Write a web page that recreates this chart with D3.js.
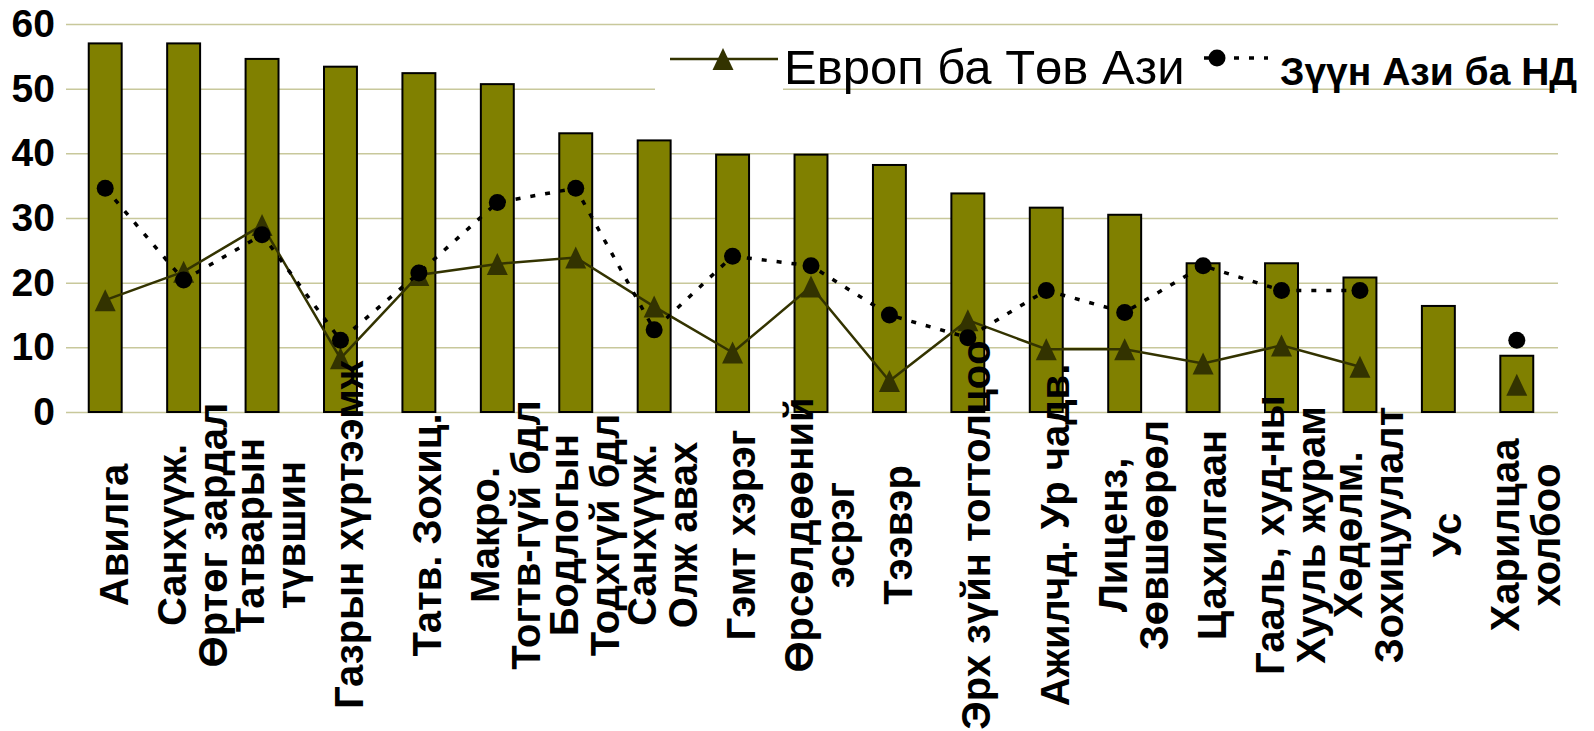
<!DOCTYPE html>
<html>
<head>
<meta charset="utf-8">
<script src="https://cdn.jsdelivr.net/npm/d3@7"></script>
<style>
  html, body { margin: 0; padding: 0; background: #fff; }
  text { font-family: "Liberation Sans", Arial, sans-serif; }
</style>
</head>
<body>
<div id="chart"></div>
<script>
// category labels, one entry per bar, split into the lines shown under the axis
const categories = [
  ["Авилга"],
  ["Санхүүж.", "Өртөг зардал"],
  ["Татварын", "түвшин"],
  ["Газрын хүртээмж"],
  ["Татв. Зохиц."],
  ["Макро.", "Тогтв-гүй бдл"],
  ["Бодлогын", "Тодхгүй бдл"],
  ["Санхүүж.", "Олж авах"],
  ["Гэмт хэрэг"],
  ["Өрсөлдөөний", "эсрэг"],
  ["Тээвэр"],
  ["Эрх зүйн тогтолцоо"],
  ["Ажилчд. Ур чадв."],
  ["Лиценз,", "Зөвшөөрөл"],
  ["Цахилгаан"],
  ["Гааль, худ-ны", "Хууль журам"],
  ["Хөдөлм.", "Зохицуулалт"],
  ["Ус"],
  ["Харилцаа", "холбоо"]
];

const barValues = [57, 57, 54.6, 53.4, 52.4, 50.7, 43.1, 42, 39.8, 39.8, 38.2, 33.8, 31.6, 30.5, 23, 23, 20.8, 16.4, 8.7];
const europe = [17.3, 21.7, 28.9, 8.3, 21.2, 22.9, 23.9, 16.3, 9.2, 19.4, 4.8, 14.2, 9.7, 9.7, 7.5, 10.3, 7, null, 4.2];
const eastAsia = [34.6, 20.4, 27.4, 11.1, 21.5, 32.4, 34.6, 12.7, 24.1, 22.6, 15, 11.5, 18.8, 15.4, 22.6, 18.8, 18.8, null, 11.1];

const yTicks = [0, 10, 20, 30, 40, 50, 60];
const seriesNames = ["Европ ба Төв Ази", "Зүүн Ази ба НД"];

const width = 1594;
const height = 731;
const margin = { top: 24, left: 66, bottom: 319, right: 38 };

const keys = categories.map((c) => c.join(" "));

const svg = d3.select("#chart").append("svg")
  .attr("width", width)
  .attr("height", height);

const x = d3.scaleBand()
  .domain(keys)
  .range([margin.left, width - margin.right])
  .paddingInner(0.58)
  .paddingOuter(0.29);

const y = d3.scaleLinear()
  .domain([0, 60])
  .range([height - margin.bottom, margin.top]);

const cx = (i) => x(keys[i]) + x.bandwidth() / 2;

// grid + y labels
const yAxis = svg.append("g")
  .attr("transform", `translate(${margin.left},0)`)
  .call(d3.axisLeft(y)
    .tickValues(yTicks)
    .tickSize(-(width - margin.left - margin.right + 2))
    .tickPadding(11));

yAxis.select(".domain").remove();
yAxis.selectAll(".tick line")
  .attr("stroke", "#c8c89b")
  .attr("stroke-width", 1.5);
yAxis.selectAll(".tick text")
  .attr("fill", "#000")
  .style("font-size", "39px")
  .style("font-weight", "bold");

// white patch behind the first legend symbol (hides the grid there)
svg.append("rect")
  .attr("x", 655).attr("y", 34)
  .attr("width", 128).attr("height", 60)
  .attr("fill", "#fff");

// bars
svg.append("g")
  .selectAll("rect")
  .data(barValues)
  .join("rect")
  .attr("x", (d, i) => x(keys[i]))
  .attr("y", (d) => y(d))
  .attr("width", x.bandwidth())
  .attr("height", (d) => y(0) - y(d))
  .attr("fill", "#808000")
  .attr("stroke", "#000")
  .attr("stroke-width", 2);

const triangle = (w, h) => `M0,${-h / 2}L${w / 2},${h / 2}L${-w / 2},${h / 2}Z`;

const line = d3.line()
  .defined((d) => d != null)
  .x((d, i) => cx(i))
  .y((d) => y(d));

// Europe & Central Asia
svg.append("path")
  .datum(europe)
  .attr("d", line)
  .attr("fill", "none")
  .attr("stroke", "#333300")
  .attr("stroke-width", 2.5);

svg.append("g")
  .selectAll("path")
  .data(europe.map((v, i) => ({ v, i })).filter((d) => d.v != null))
  .join("path")
  .attr("transform", (d) => `translate(${cx(d.i)},${y(d.v)})`)
  .attr("d", triangle(21, 22))
  .attr("fill", "#333300");

// East Asia & Pacific
svg.append("path")
  .datum(eastAsia)
  .attr("d", line)
  .attr("fill", "none")
  .attr("stroke", "#000")
  .attr("stroke-width", 3.5)
  .attr("stroke-dasharray", "5,10");

svg.append("g")
  .selectAll("circle")
  .data(eastAsia.map((v, i) => ({ v, i })).filter((d) => d.v != null))
  .join("circle")
  .attr("cx", (d) => cx(d.i))
  .attr("cy", (d) => y(d.v))
  .attr("r", 8.5)
  .attr("fill", "#000");

// x labels, rotated
const lineGap = 41;
const labels = svg.append("g")
  .selectAll("text")
  .data(categories)
  .join("text")
  .attr("transform", (d, i) => `translate(${cx(i) + 8.5},535) rotate(-90)`)
  .attr("text-anchor", "middle")
  .style("font-size", "40px")
  .style("font-weight", "bold");

labels.selectAll("tspan")
  .data((d) => d.map((t, k) => ({ t, k, n: d.length })))
  .join("tspan")
  .attr("x", 0)
  .attr("y", (d) => (d.k - (d.n - 1) / 2) * lineGap)
  .attr("dy", "0.35em")
  .text((d) => d.t);

// legend
const leg = svg.append("g");
leg.append("line")
  .attr("x1", 670).attr("x2", 778)
  .attr("y1", 59).attr("y2", 59)
  .attr("stroke", "#333300")
  .attr("stroke-width", 2.5);
leg.append("path")
  .attr("transform", "translate(723,59)")
  .attr("d", triangle(21, 22))
  .attr("fill", "#333300");
leg.append("text")
  .attr("x", 784).attr("y", 84)
  .style("font-size", "49px")
  .text(seriesNames[0]);

leg.append("line")
  .attr("x1", 1204).attr("x2", 1268)
  .attr("y1", 58).attr("y2", 58)
  .attr("stroke", "#000")
  .attr("stroke-width", 3.5)
  .attr("stroke-dasharray", "5,10");
leg.append("circle")
  .attr("cx", 1217).attr("cy", 58)
  .attr("r", 8.5)
  .attr("fill", "#000");
leg.append("text")
  .attr("x", 1280).attr("y", 85)
  .style("font-size", "39px")
  .style("font-weight", "bold")
  .text(seriesNames[1]);
</script>
</body>
</html>
